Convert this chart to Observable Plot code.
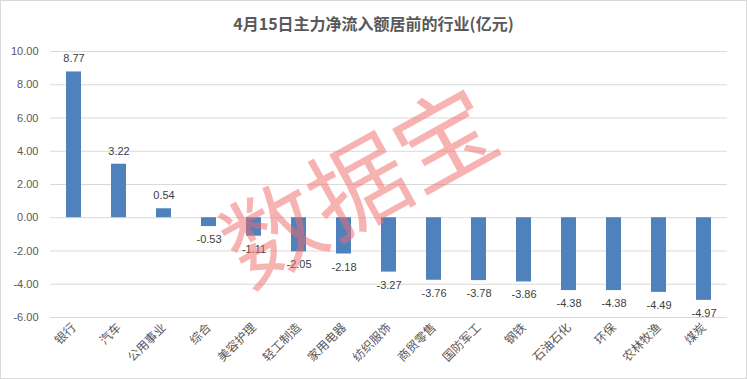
<!DOCTYPE html>
<html>
<head>
<meta charset="utf-8">
<script src="https://cdn.jsdelivr.net/npm/d3@7"></script>
<script src="https://cdn.jsdelivr.net/npm/@observablehq/plot@0.6"></script>
<style>
  html, body { margin: 0; padding: 0; background: #fff; }
  #chart { width: 745px; height: 377px; border: 1px solid #d9d9d9; position: relative; overflow: hidden; }
  #title { height: 40px; line-height: 44px; text-align: center; font-family: "Noto Sans CJK SC", "Liberation Sans", sans-serif; font-weight: bold; font-size: 16px; color: #595959; }
</style>
</head>
<body>
<div id="chart"><div id="title">4月15日主力净流入额居前的行业(亿元)</div></div>
<script>
const categories = ["银行","汽车","公用事业","综合","美容护理","轻工制造","家用电器","纺织服饰","商贸零售","国防军工","钢铁","石油石化","环保","农林牧渔","煤炭"];
const values = [8.77, 3.22, 0.54, -0.53, -1.11, -2.05, -2.18, -3.27, -3.76, -3.78, -3.86, -4.38, -4.38, -4.49, -4.97];
const yTicks = [-6, -4, -2, 0, 2, 4, 6, 8, 10];
const watermark = ["数据宝"];

const data = categories.map((c, i) => ({category: c, value: values[i]}));
const pos = data.filter(d => d.value >= 0);
const neg = data.filter(d => d.value < 0);

const plot = Plot.plot({
  width: 745,
  height: 337,
  marginTop: 10,
  marginBottom: 61,
  marginLeft: 49,
  marginRight: 19,
  style: {fontFamily: "'Liberation Sans', 'Noto Sans CJK SC', sans-serif", fontSize: "11px", color: "#595959", background: "transparent"},
  x: {domain: categories, paddingInner: 0.66, paddingOuter: 0.33, label: null},
  y: {domain: [-6, 10], label: null},
  marks: [
    Plot.gridY(yTicks, {stroke: "#d9d9d9", strokeOpacity: 1, strokeWidth: 1}),
    Plot.axisY(yTicks, {tickSize: 0, tickPadding: 12, tickFormat: d => d.toFixed(2), fill: "#595959", fontSize: 11, label: null}),
    Plot.axisX({tickSize: 0, tickPadding: 8, tickRotate: -45, fill: "#595959", fontSize: 12, fontFamily: "'Noto Sans CJK SC', sans-serif", label: null}),
    Plot.barY(data, {x: "category", y: "value", fill: "#4f81bd"}),
    Plot.text(pos, {x: "category", y: "value", text: d => d.value.toFixed(2), dy: -13, fill: "#404040", fontSize: 11}),
    Plot.text(neg, {x: "category", y: "value", text: d => d.value.toFixed(2), dy: 13, fill: "#404040", fontSize: 11}),
    Plot.text(watermark, {frameAnchor: "middle", text: d => d, rotate: -29, dx: -28, dy: 6, fontSize: 98, fill: "#ef6b6b", fillOpacity: 0.52, fontFamily: "'Noto Sans CJK SC', sans-serif", fontWeight: 400})
  ]
});
document.getElementById("chart").appendChild(plot);
</script>
</body>
</html>
